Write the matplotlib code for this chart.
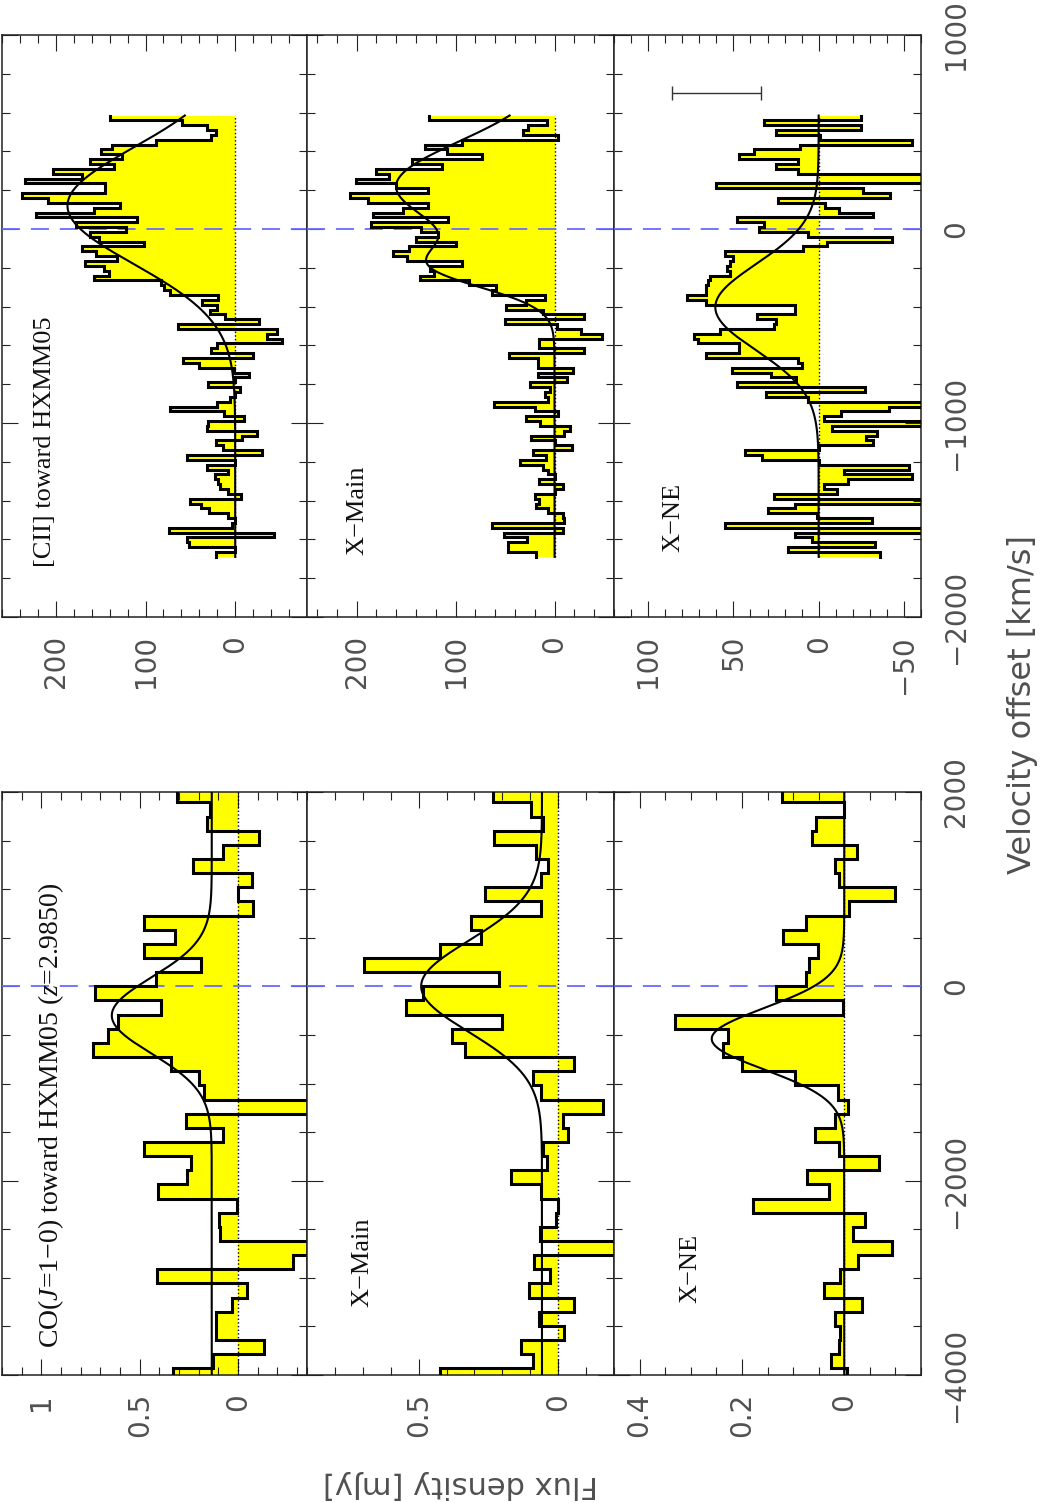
import numpy as np
import matplotlib
matplotlib.use('Agg')
import matplotlib.pyplot as plt
from matplotlib.ticker import MultipleLocator

plt.rcParams['mathtext.fontset'] = 'custom'
plt.rcParams['mathtext.rm'] = 'Liberation Serif'
plt.rcParams['mathtext.it'] = 'Liberation Serif:italic'

# CO(1-0): canais de 145.6 km/s, do canal mais alto para o mais baixo
co_v_topo = 2038.4
co_dv = 145.6
co_total = [0.31, 0.142, 0.16, -0.108, 0.078, 0.227, -0.07, 0.0, -0.078, 0.48,
            0.32, 0.48, 0.19, 0.417, 0.727, 0.39, 0.61, 0.66, 0.74, 0.34,
            0.197, 0.173, -0.45, 0.266, 0.078, 0.48, 0.239, 0.258, 0.405, 0.007,
            0.097, 0.091, -0.4, -0.278, 0.41, -0.047, 0.029, 0.112, 0.112, -0.129,
            0.13, 0.33]
co_xmain = [0.235, 0.097, 0.055, 0.229, 0.08, 0.037, 0.062, 0.264, 0.062, 0.311,
            0.278, 0.422, 0.697, 0.211, 0.484, 0.544, 0.201, 0.379, 0.333, -0.057,
            0.092, 0.062, -0.16, -0.017, -0.036, 0.055, 0.04, 0.168, 0.062, 0.001,
            0.007, 0.064, -0.21, 0.088, 0.031, 0.103, -0.057, 0.067, -0.021, 0.132,
            0.092, 0.425]
co_xne = [0.121, 0.0, 0.055, 0.063, -0.024, 0.018, 0.011, -0.1, -0.01, 0.075,
          0.119, 0.052, 0.069, 0.075, 0.134, 0.003, 0.33, 0.227, 0.237, 0.2,
          0.096, 0.012, -0.008, 0.018, 0.057, 0.011, -0.067, 0.072, 0.029, 0.178,
          -0.041, -0.017, -0.094, -0.027, 0.009, 0.039, -0.035, 0.018, 0.008, 0.01,
          0.026, -0.005]

# [CII]: canais de 25 km/s
cii_v_topo = 585.0
cii_dv = 25.0
cii_total = [140, 59, 32, 22, 27, 88, 137, 150, 126, 162,
             135, 203, 171, 234, 145, 145, 238, 209, 129, 157,
             222, 109, 178, 122, 162, 152, 102, 171, 155, 132,
             167, 146, 141, 157, 83, 79, 73, 19, 37, 20,
             28, 11, -27, 64, -47, -35, -52, 20, 27, -20,
             58, 40, 1, -15, 0, 30, -5, 0, 6, 20,
             73, 13, -10, 30, 32, -24, -8, 22, 14, -30,
             54, 0, 32, 8, 23, 19, 17, 8, -6, 50,
             38, 29, 8, 0, 4, 74, -43, 54, 51, 0,
             21]
cii_xmain = [127, 8, 27, 32, -3, 93, 131, 109, 73, 144,
             114, 180, 167, 201, 160, 128, 207, 188, 128, 153,
             183, 108, 185, 135, 118, 140, 100, 147, 163, 149,
             93, 126, 122, 136, 86, 59, 63, 10, 29, 49,
             12, -30, 50, -2, -27, -48, 16, 16, -30, 46,
             17, 17, -19, 17, -13, 25, 5, 10, 7, 61,
             20, -3, 29, 15, -16, -10, 24, 0, -18, 22,
             9, 35, 12, 7, 0, 16, -8, 0, 20, 16,
             19, 7, -8, -10, 63, -8, 51, 28, 47, 47,
             19]
cii_xne = [-25, 32, -25, 25, -1, -55, 11, 38, 47, 12,
           25, 12, -70, -70, 60, -26, -42, 24, -4, -12,
           -32, 48, 32, 35, 6, -43, -5, 9, 55, 50,
           52, 54, 52, 64, 65, 66, 66, 77, 66, 14,
           14, 36, 25, 26, 58, 73, 71, 47, 47, 66,
           12, 10, 51, 28, 13, 48, -27, 31, 6, -70,
           -41, -13, -3, -70, -8, -34, -28, -32, 0, 43,
           33, 0, -53, -15, -55, -17, -3, -11, 26, -70,
           14, 30, 1, -31, 55, -70, 14, 4, -33, 18,
           -36]

# ajustes gaussianos: base e componentes (amplitude, centro, sigma)
co_base = [0.134, 0.058, 0.0]
co_comp = [[(0.508, -300, 390)], [(0.433, 0, 470)], [(0.259, -540, 315)]]
cii_base = [0, 0, 0]
cii_comp = [[(187, 120, 300)], [(160, 220, 230), (95, -200, 110)], [(60.6, -403, 222)]]

rotulos_co = ['CO($J$=1\u22120) toward HXMM05 ($z$=2.9850)', 'X\u2212Main', 'X\u2212NE']
rotulos_cii = ['[CII] toward HXMM05', 'X\u2212Main', 'X\u2212NE']

co_flim = [(1.2, -0.35), (0.9, -0.2), (0.45, -0.15)]
co_fmaj = [[1, 0.5, 0], [0.5, 0], [0.4, 0.2, 0]]
co_flab = [['1', '0.5', '0'], ['0.5', '0'], ['0.4', '0.2', '0']]
co_fmin = [0.1, 0.1, 0.05]
cii_flim = [(260, -80), (250, -60), (120, -60)]
cii_fmaj = [[200, 100, 0], [200, 100, 0], [100, 50, 0, -50]]
cii_flab = [['200', '100', '0'], ['200', '100', '0'], ['100', '50', '0', '\u221250']]
cii_fmin = [20, 20, 10]

co_vt = [-4000, -2000, 0, 2000]
co_vlab = ['\u22124000', '\u22122000', '0', '2000']
cii_vt = [-2000, -1000, 0, 1000]
cii_vlab = ['\u22122000', '\u22121000', '0', '1000']

cinza = '#505050'
W, H = 1040, 1503
fig = plt.figure(figsize=(W / 100, H / 100), dpi=100)

xs = [(2, 305), (307, 307), (614, 307)]
pos_texto_co = [(0.16, 0.046), (0.18, 0.117), (0.25, 0.124)]
pos_texto_cii = [(0.141, 0.086), (0.163, 0.107), (0.192, 0.112)]


def painel(ax, v_topo, dv, fluxo, base, comps, vlim, corta_curva):
    n = len(fluxo)
    bordas = v_topo - dv * np.arange(n + 1)
    vv = np.repeat(bordas, 2)[1:-1]
    ff = np.repeat(np.array(fluxo, float), 2)
    ax.fill_betweenx(vv, ff, 0, color='#ffff00', lw=0, zorder=1)
    ax.plot([0, 0], [bordas[-1], bordas[0]], color='k', ls=':', lw=1, zorder=2)
    ax.axhline(0, color='#6a6aff', ls=(0, (10, 6)), lw=1.3, zorder=3)
    ax.plot(ff, vv, color='k', lw=2.2, zorder=4, solid_joinstyle='miter')
    if corta_curva:
        vg = np.linspace(bordas[-1], bordas[0], 600)
    else:
        vg = np.linspace(vlim[0], vlim[1], 600)
    g = base + sum(a * np.exp(-0.5 * ((vg - c) / s) ** 2) for a, c, s in comps)
    ax.plot(g, vg, color='k', lw=1.5, zorder=5)
    ax.set_ylim(vlim)


grupos = [
    (128, 583, co_v_topo, co_dv, [co_total, co_xmain, co_xne], co_base, co_comp,
     (-4000, 2000), co_flim, co_fmaj, co_flab, co_fmin, co_vt, co_vlab, 2000, 500,
     rotulos_co, pos_texto_co, False),
    (886, 582, cii_v_topo, cii_dv, [cii_total, cii_xmain, cii_xne], cii_base, cii_comp,
     (-2000, 1000), cii_flim, cii_fmaj, cii_flab, cii_fmin, cii_vt, cii_vlab, 1000, 200,
     rotulos_cii, pos_texto_cii, True),
]

for (y0, h, vtop, dv, dados, bases, comps, vlim, flims, fmaj, flab, fmin,
     vt, vlab, vmaj, vmin, rotulos, pos_txt, corta) in grupos:
    for i in range(3):
        x0, w = xs[i]
        ax = fig.add_axes([x0 / W, y0 / H, w / W, h / H])
        painel(ax, vtop, dv, dados[i], bases[i], comps[i], vlim, corta)
        ax.set_xlim(flims[i])
        ax.set_xticks(fmaj[i], labels=flab[i], rotation=90, fontsize=20, color=cinza)
        ax.xaxis.set_minor_locator(MultipleLocator(fmin[i]))
        ax.set_yticks(vt, labels=vlab, rotation=90, va='center', fontsize=20, color=cinza)
        ax.yaxis.set_minor_locator(MultipleLocator(vmin))
        ax.tick_params(which='both', direction='in', top=True, bottom=True,
                       left=True, right=True, width=0.8, color='#222222',
                       labelleft=False, labelright=(i == 2), labelbottom=True)
        ax.tick_params(which='major', length=11.5)
        ax.tick_params(which='minor', length=5.8)
        ax.tick_params(axis='x', pad=13)
        ax.tick_params(axis='y', pad=15)
        for sp in ax.spines.values():
            sp.set_linewidth(1.1)
            sp.set_color('#222222')
        tam = 20 if (i == 0 and not corta) else 19
        ax.text(pos_txt[i][0], pos_txt[i][1], rotulos[i], transform=ax.transAxes,
                rotation=90, ha='center', va='bottom', fontsize=tam,
                family='Liberation Serif', color='#111111', zorder=6)
        if corta and i == 2:
            ax.errorbar([60], [700], xerr=[26], fmt='none', ecolor='#333333',
                        elinewidth=1, capsize=4.7, capthick=1, zorder=6)

fig.text(1022 / W, 1 - 705 / H, 'Velocity offset [km/s]', rotation=90,
         ha='center', va='center', fontsize=23, color=cinza)
fig.text(460 / W, 1 - 1485 / H, 'Flux density [mJy]', rotation=180,
         ha='center', va='center', fontsize=22, color=cinza)

fig.savefig('out.png', dpi=100)
